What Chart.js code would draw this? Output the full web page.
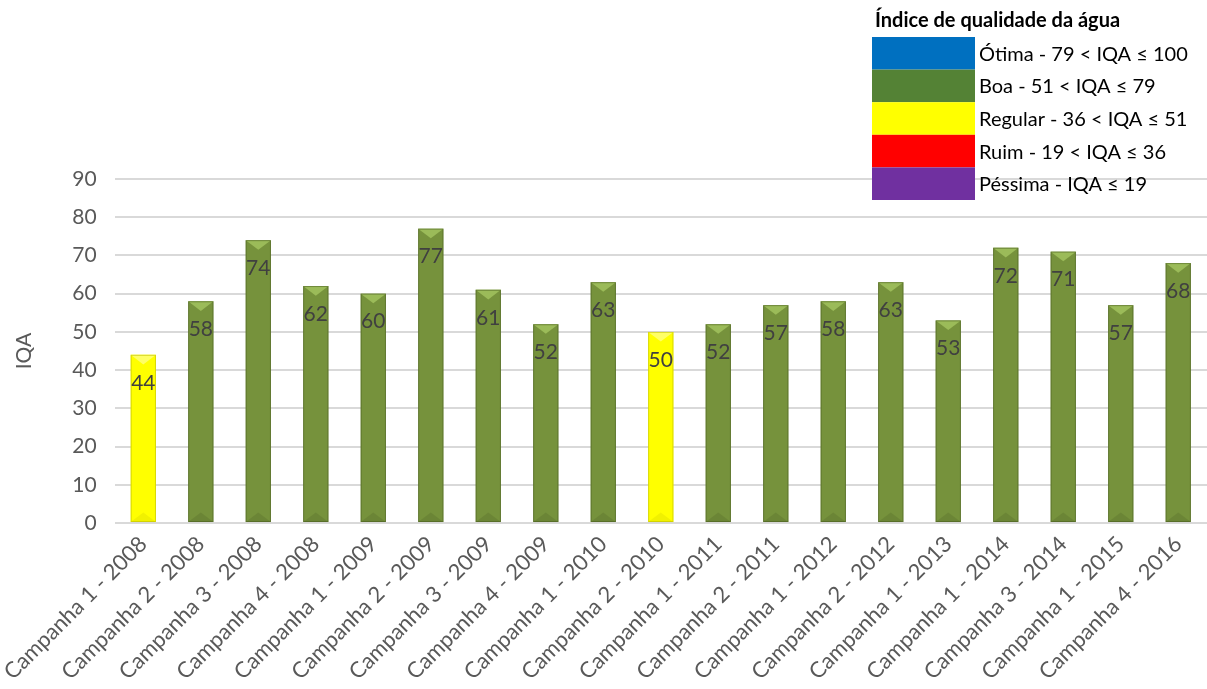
<!DOCTYPE html>
<html>
<head>
<meta charset="utf-8">
<script src="https://cdn.jsdelivr.net/npm/chart.js@4"></script>
<style>
  html, body { margin: 0; padding: 0; background: #fff; }
  #wrap { width: 1207px; height: 689px; }
</style>
</head>
<body>
<div id="wrap"><canvas id="iqaChart"></canvas></div>
<script>
// campanhas de monitoramento e IQA medido
const campanhas = [
  'Campanha 1 - 2008', 'Campanha 2 - 2008', 'Campanha 3 - 2008', 'Campanha 4 - 2008',
  'Campanha 1 - 2009', 'Campanha 2 - 2009', 'Campanha 3 - 2009', 'Campanha 4 - 2009',
  'Campanha 1 - 2010', 'Campanha 2 - 2010', 'Campanha 1 - 2011', 'Campanha 2 - 2011',
  'Campanha 1 - 2012', 'Campanha 2 - 2012', 'Campanha 1 - 2013', 'Campanha 1 - 2014',
  'Campanha 3 - 2014', 'Campanha 1 - 2015', 'Campanha 4 - 2016'
];
const iqa = [44, 58, 74, 62, 60, 77, 61, 52, 63, 50, 52, 57, 58, 63, 53, 72, 71, 57, 68];

// faixas de qualidade (legenda)
const faixasNome = [
  'Ótima - 79 < IQA ≤ 100',
  'Boa - 51 < IQA ≤ 79',
  'Regular - 36 < IQA ≤ 51',
  'Ruim - 19 < IQA ≤ 36',
  'Péssima - IQA ≤ 19'
];
const faixasCor = ['#0070c0', '#548235', '#ffff00', '#ff0000', '#7030a0'];
const faixasLimite = [79, 51, 36, 19, 0];

const yTicks = [0, 10, 20, 30, 40, 50, 60, 70, 80, 90];

const FONT = 'Lato, "Open Sans", sans-serif';

function faixa(v) {
  for (let i = 0; i < faixasLimite.length; i++) {
    if (v > faixasLimite[i]) return i;
  }
  return faixasLimite.length - 1;
}

// gradiente horizontal para dar o aspecto de barra chanfrada
function corBarra(ctx) {
  const el = ctx.element;
  const v = iqa[ctx.dataIndex];
  const amarelo = faixa(v) === 2;
  if (!el || !el.width) return amarelo ? '#ffff00' : '#76923c';
  const c = ctx.chart.ctx;
  const x0 = el.x - el.width / 2, x1 = el.x + el.width / 2;
  const g = c.createLinearGradient(x0, 0, x1, 0);
  if (amarelo) {
    g.addColorStop(0, '#e6e600');
    g.addColorStop(0.12, '#ffff33');
    g.addColorStop(0.5, '#ffff10');
    g.addColorStop(0.88, '#f2f200');
    g.addColorStop(1, '#d4d400');
  } else {
    g.addColorStop(0, '#6d8835');
    g.addColorStop(0.12, '#85a246');
    g.addColorStop(0.5, '#7d9a40');
    g.addColorStop(0.52, '#6e8a35');
    g.addColorStop(0.88, '#67812f');
    g.addColorStop(1, '#546b25');
  }
  return g;
}

// triângulos de chanfro no topo e na base de cada barra + rótulos de valor
const chanfro = {
  id: 'chanfro',
  afterDatasetsDraw(chart) {
    const c = chart.ctx;
    const meta = chart.getDatasetMeta(0);
    meta.data.forEach((bar, i) => {
      const amarelo = faixa(iqa[i]) === 2;
      const w = bar.width, x0 = bar.x - w / 2, x1 = bar.x + w / 2;
      const h = w * 0.38;
      c.save();
      c.fillStyle = amarelo ? '#ffff66' : '#9bbb59';
      c.beginPath();
      c.moveTo(x0, bar.y);
      c.lineTo(x1, bar.y);
      c.lineTo(bar.x, bar.y + h);
      c.closePath();
      c.fill();
      c.fillStyle = amarelo ? 'rgba(210,210,0,0.3)' : 'rgba(60,80,25,0.18)';
      c.beginPath();
      c.moveTo(x0, bar.base);
      c.lineTo(x1, bar.base);
      c.lineTo(bar.x, bar.base - h);
      c.closePath();
      c.fill();
      c.strokeStyle = amarelo ? 'rgba(190,190,0,0.6)' : 'rgba(70,90,30,0.5)';
      c.lineWidth = 1;
      c.strokeRect(x0 + 0.5, bar.y + 0.5, w - 1, bar.base - bar.y - 1);

      c.fillStyle = '#404040';
      c.font = '21px ' + FONT;
      c.textAlign = 'center';
      c.textBaseline = 'middle';
      c.fillText(String(iqa[i]), bar.x, bar.y + 28);
      c.restore();
    });
  }
};

// legenda das faixas do IQA
const legendaFaixas = {
  id: 'legendaFaixas',
  afterDraw(chart) {
    const c = chart.ctx;
    const x = 872, top = 37, rowH = 32.6, boxW = 103;
    c.save();
    c.fillStyle = '#000';
    c.font = 'bold 20px ' + FONT;
    c.textAlign = 'left';
    c.textBaseline = 'middle';
    c.fillText('Índice de qualidade da água', 875, 21);
    c.font = '20px ' + FONT;
    faixasNome.forEach((nome, i) => {
      const y = top + i * rowH;
      c.fillStyle = faixasCor[i];
      c.fillRect(x, y, boxW, rowH);
      c.fillStyle = '#000';
      c.fillText(nome, x + boxW + 4, y + rowH / 2 + 1);
    });
    c.restore();
  }
};

new Chart(document.getElementById('iqaChart'), {
  type: 'bar',
  data: {
    labels: campanhas,
    datasets: [{
      label: 'IQA',
      data: iqa,
      backgroundColor: corBarra,
      borderWidth: 0,
      barPercentage: 0.44,
      categoryPercentage: 1
    }]
  },
  options: {
    responsive: true,
    maintainAspectRatio: false,
    animation: false,
    layout: { padding: { top: 179, right: 0, left: 8, bottom: 4 } },
    plugins: { legend: { display: false }, tooltip: { enabled: false } },
    scales: {
      x: {
        grid: { display: false },
        border: { display: false },
        ticks: {
          color: '#595959',
          font: { family: FONT, size: 22 },
          maxRotation: 45,
          minRotation: 45,
          autoSkip: false,
          padding: 0
        }
      },
      y: {
        min: 0,
        max: 90,
        afterBuildTicks(axis) { axis.ticks = yTicks.map(v => ({ value: v })); },
        grid: { color: '#d9d9d9', lineWidth: 2, drawTicks: false },
        border: { display: false },
        ticks: {
          color: '#595959',
          font: { family: FONT, size: 21 },
          padding: 18
        },
        title: {
          display: true,
          text: 'IQA',
          color: '#595959',
          font: { family: FONT, size: 21 },
          padding: { bottom: 17 }
        }
      }
    }
  },
  plugins: [chanfro, legendaFaixas]
});
</script>
</body>
</html>
